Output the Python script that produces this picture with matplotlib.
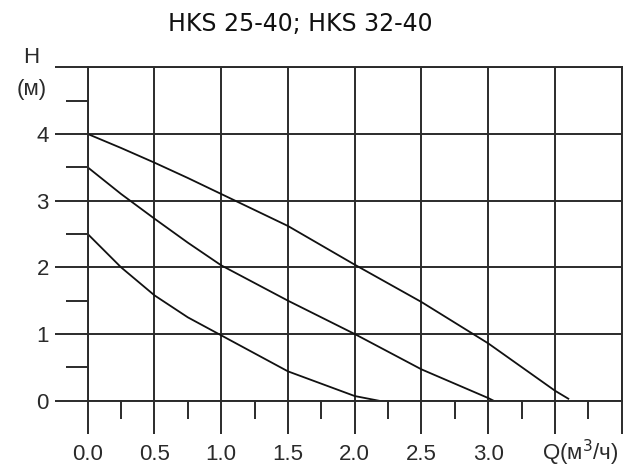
import matplotlib.pyplot as plt
from matplotlib.ticker import FixedLocator

# pump curves (Q in m3/h, H in m)
q_high = [0.0, 0.25, 0.5, 0.75, 1.0, 1.5, 2.0, 2.5, 3.0, 3.5, 3.6]
h_high = [4.0, 3.79, 3.57, 3.34, 3.1, 2.62, 2.04, 1.48, 0.86, 0.15, 0.03]

q_mid = [0.0, 0.25, 0.5, 0.75, 1.0, 1.5, 2.0, 2.5, 3.0, 3.04]
h_mid = [3.5, 3.1, 2.73, 2.37, 2.03, 1.5, 1.0, 0.47, 0.04, 0.0]

q_low = [0.0, 0.25, 0.5, 0.75, 1.0, 1.5, 2.0, 2.18]
h_low = [2.5, 2.0, 1.58, 1.25, 0.98, 0.44, 0.07, 0.0]

x_ticks = [0.0, 0.5, 1.0, 1.5, 2.0, 2.5, 3.0, 3.5, 4.0]
x_labels = ['0.0', '0.5', '1.0', '1.5', '2.0', '2.5', '3.0', '', '']
x_minor = [0.25, 0.75, 1.25, 1.75, 2.25, 2.75, 3.25, 3.75]
y_ticks = [0, 1, 2, 3, 4, 5]
y_labels = ['0', '1', '2', '3', '4', '']
y_minor = [0.5, 1.5, 2.5, 3.5, 4.5]

title = 'HKS 25-40; HKS 32-40'
line_col = '#2b2b2b'
txt_col = '#2a2a2a'

plt.rcParams['font.family'] = ['Liberation Sans', 'DejaVu Sans']

fig = plt.figure(figsize=(6.37, 4.68), dpi=100)
ax = fig.add_axes([0.1377, 0.1438, 0.8383, 0.7124])

ax.plot(q_high, h_high, color='#111111', lw=1.3)
ax.plot(q_mid, h_mid, color='#111111', lw=1.3)
ax.plot(q_low, h_low, color='#111111', lw=1.3)

ax.set_xlim(0, 4.0)
ax.set_ylim(0, 5)

ax.xaxis.set_major_locator(FixedLocator(x_ticks))
ax.xaxis.set_minor_locator(FixedLocator(x_minor))
ax.yaxis.set_major_locator(FixedLocator(y_ticks))
ax.yaxis.set_minor_locator(FixedLocator(y_minor))
ax.set_xticklabels(x_labels)
ax.set_yticklabels(y_labels)

ax.tick_params(axis='x', which='major', length=24, width=1.4, color=line_col,
               labelsize=16, pad=7, labelcolor=txt_col)
ax.tick_params(axis='x', which='minor', length=13, width=1.4, color=line_col)
ax.tick_params(axis='y', which='major', length=24, width=1.4, color=line_col,
               labelsize=16, pad=4, labelcolor=txt_col)
ax.tick_params(axis='y', which='minor', length=16, width=1.4, color=line_col)

ax.grid(True, which='major', color=line_col, lw=1.4)
for s in ax.spines.values():
    s.set_color(line_col)
    s.set_linewidth(1.4)

# axis captions
ax.text(-0.42, 5.15, 'H', ha='center', va='center', fontsize=16, color=txt_col,
        clip_on=False)
ax.text(-0.42, 4.66, '(м)', ha='center', va='center', fontsize=16, color=txt_col,
        clip_on=False)
ax.text(3.40, -0.78, 'Q(м$^3$/ч)', ha='left', va='center', fontsize=16,
        color=txt_col, clip_on=False)

fig.text(0.472, 0.949, title, ha='center', va='center', fontsize=17,
         family='DejaVu Sans', color='#111111')

fig.savefig('out.png', dpi=100)
